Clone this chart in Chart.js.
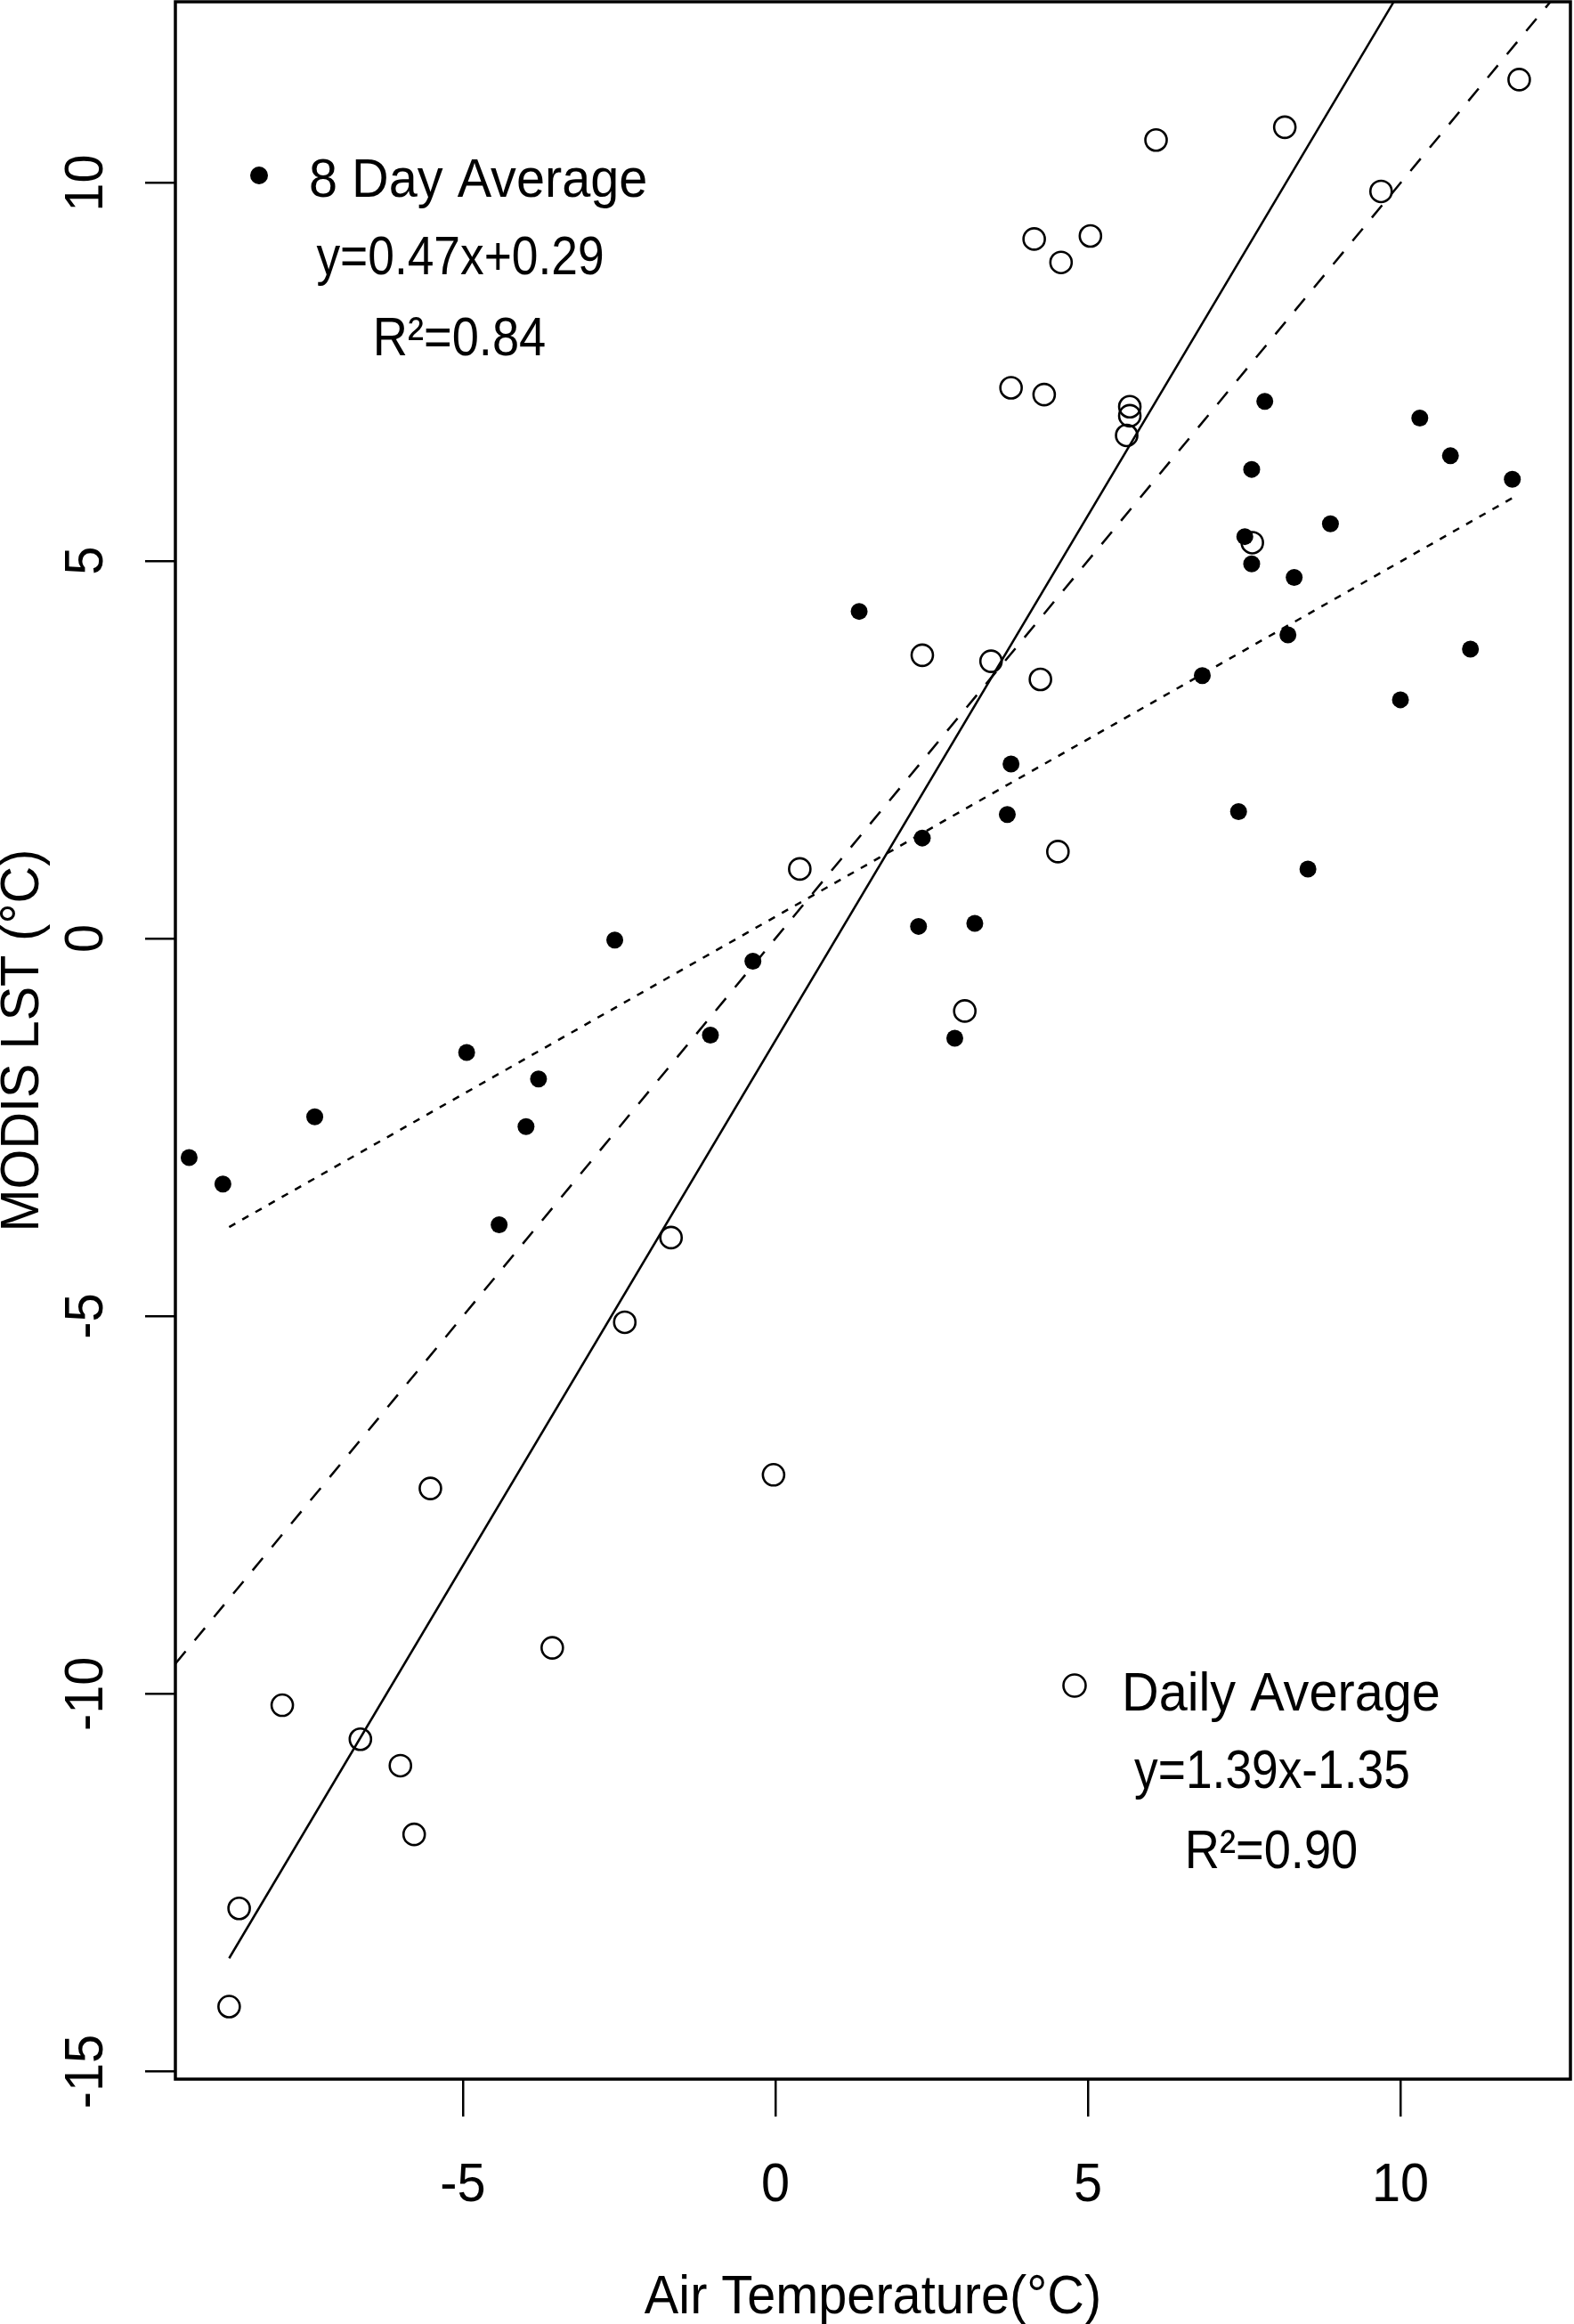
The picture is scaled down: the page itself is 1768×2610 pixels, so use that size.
<!DOCTYPE html>
<html>
<head>
<meta charset="utf-8">
<script src="https://cdn.jsdelivr.net/npm/chart.js@4.4.1/dist/chart.umd.min.js"></script>
<style>
  html, body { margin: 0; padding: 0; background: #fff; }
  #chart { display: block; }
</style>
</head>
<body>
<canvas id="chart" width="1768" height="2610"></canvas>
<script>
// 8 day average (filled dots)
const eightDayX = [-9.38, -8.84, -7.37, -4.94, -4.42, -3.99, -3.79, -2.57, -1.04, -0.36,
                   1.34, 2.29, 2.35, 2.87, 3.19, 3.71, 3.77, 6.83, 7.41, 7.51,
                   7.62, 7.62, 7.83, 8.20, 8.30, 8.52, 8.88, 10.00, 10.31, 10.80,
                   11.12, 11.79];
const eightDayY = [-2.90, -3.25, -2.36, -1.51, -3.79, -2.49, -1.86, -0.02, -1.28, -0.30,
                   4.33, 0.16, 1.33, -1.32, 0.20, 1.64, 2.31, 3.48, 1.68, 5.32,
                   6.21, 4.96, 7.11, 4.02, 4.78, 0.92, 5.49, 3.16, 6.89, 6.39,
                   3.83, 6.08];

// daily average (open circles)
const dailyX = [-8.74, -8.58, -7.89, -6.64, -6.00, -5.78, -5.52, -3.57, -2.41, -1.67,
                -0.03, 0.39, 2.35, 3.03, 3.45, 4.24, 4.52, 3.77, 4.30, 4.14,
                4.57, 5.04, 5.67, 5.67, 5.62, 6.09, 7.63, 8.15, 9.69, 11.90];
const dailyY = [-14.14, -12.84, -10.15, -10.60, -10.95, -11.86, -7.28, -9.39, -5.08, -3.96,
                -7.10, 0.92, 3.75, -0.96, 3.67, 3.43, 1.15, 7.29, 7.20, 9.26,
                8.95, 9.30, 7.04, 6.92, 6.66, 10.57, 5.24, 10.74, 9.89, 11.37];

// fitted lines, end points
const eightDayFitX = [-8.74, 11.79];
const eightDayFitY = [-3.82, 5.83];
const dailyFitX = [-8.74, 11.90];
const dailyFitY = [-13.50, 15.19];
const oneToOneX = [-9.6, 12.72];
const oneToOneY = [-9.6, 12.72];

const xTicks = [-5, 0, 5, 10];
const yTicks = [-15, -10, -5, 0, 5, 10];
const xTitle = "Air Temperature(°C)";
const yTitle = "MODIS LST (°C)";
const legendTop = ["8 Day Average", "y=0.47x+0.29", "R²=0.84"];
const legendBottom = ["Daily Average", "y=1.39x-1.35", "R²=0.90"];

function pts(xs, ys) {
  return xs.map(function (x, i) { return { x: x, y: ys[i] } });
}

// text a bit narrower than plain Arial, like the R windows device
function txt(ctx, s, x, y, align, rot, sx) {
  ctx.save();
  ctx.translate(x, y);
  if (rot) ctx.rotate(rot);
  ctx.scale(sx || 0.93, 1);
  ctx.textAlign = align;
  ctx.fillText(s, 0, 0);
  ctx.restore();
}

const rPlot = {
  id: 'rPlot',
  beforeDraw(chart) {
    const ctx = chart.ctx;
    ctx.save();
    ctx.fillStyle = '#fff';
    ctx.fillRect(0, 0, chart.width, chart.height);
    ctx.restore();
  },
  afterDraw(chart) {
    const ctx = chart.ctx, a = chart.chartArea;
    const xs = chart.scales.x, ys = chart.scales.y;
    ctx.save();
    ctx.strokeStyle = '#000';
    ctx.lineWidth = 3.5;
    ctx.strokeRect(a.left, a.top, a.right - a.left, a.bottom - a.top);

    ctx.fillStyle = '#000';
    ctx.font = '62px "Liberation Sans", Arial, sans-serif';
    ctx.textBaseline = 'alphabetic';
    xTicks.forEach(function (v) {
      txt(ctx, String(v), xs.getPixelForValue(v), a.bottom + 137, 'center');
    });
    yTicks.forEach(function (v) {
      txt(ctx, String(v), a.left - 82, ys.getPixelForValue(v), 'center', -Math.PI / 2);
    });
    txt(ctx, xTitle, (a.left + a.right) / 2, a.bottom + 263, 'center');
    txt(ctx, yTitle, a.left - 154, (a.top + a.bottom) / 2, 'center', -Math.PI / 2);

    // legend top left
    ctx.beginPath();
    ctx.arc(291, 197, 10, 0, Math.PI * 2);
    ctx.fill();
    txt(ctx, legendTop[0], 347, 221, 'left');
    txt(ctx, legendTop[1], 517, 308, 'center', 0, 0.86);
    txt(ctx, legendTop[2], 516, 399, 'center', 0, 0.875);

    // legend bottom right
    ctx.lineWidth = 2.6;
    ctx.beginPath();
    ctx.arc(1207, 1893, 12.5, 0, Math.PI * 2);
    ctx.stroke();
    txt(ctx, legendBottom[0], 1260, 1921, 'left');
    txt(ctx, legendBottom[1], 1429, 2008, 'center', 0, 0.86);
    txt(ctx, legendBottom[2], 1428, 2098, 'center', 0, 0.875);
    ctx.restore();
  }
};

new Chart(document.getElementById('chart'), {
  type: 'scatter',
  data: {
    datasets: [
      {
        label: '1:1',
        data: pts(oneToOneX, oneToOneY),
        showLine: true,
        borderColor: '#000',
        borderWidth: 2.5,
        borderDash: [18, 16],
        pointRadius: 0,
        fill: false
      },
      {
        label: 'daily fit',
        data: pts(dailyFitX, dailyFitY),
        showLine: true,
        borderColor: '#000',
        borderWidth: 2.5,
        pointRadius: 0,
        fill: false
      },
      {
        label: '8 day fit',
        data: pts(eightDayFitX, eightDayFitY),
        showLine: true,
        borderColor: '#000',
        borderWidth: 2.5,
        borderDash: [8, 9],
        pointRadius: 0,
        fill: false
      },
      {
        label: 'Daily Average',
        data: pts(dailyX, dailyY),
        showLine: false,
        pointRadius: 12,
        pointBorderWidth: 2.6,
        pointBorderColor: '#000',
        pointBackgroundColor: 'rgba(0,0,0,0)'
      },
      {
        label: '8 Day Average',
        data: pts(eightDayX, eightDayY),
        showLine: false,
        pointRadius: 9.5,
        pointBorderWidth: 0,
        pointBackgroundColor: '#000'
      }
    ]
  },
  options: {
    responsive: false,
    animation: false,
    devicePixelRatio: 1,
    layout: { autoPadding: false, padding: { top: 2, right: 4, left: 0, bottom: 0 } },
    plugins: { legend: { display: false }, tooltip: { enabled: false } },
    scales: {
      x: {
        type: 'linear',
        min: -9.6,
        max: 12.72,
        afterBuildTicks: function (s) { s.ticks = xTicks.map(function (v) { return { value: v } }) },
        afterFit: function (s) { s.height = 275 },
        ticks: { display: false },
        grid: { drawOnChartArea: false, drawTicks: true, tickLength: 42, color: '#000', lineWidth: 2.5 },
        border: { display: false }
      },
      y: {
        type: 'linear',
        min: -15.10,
        max: 12.40,
        afterBuildTicks: function (s) { s.ticks = yTicks.map(function (v) { return { value: v } }) },
        afterFit: function (s) { s.width = 197 },
        ticks: { display: false },
        grid: { drawOnChartArea: false, drawTicks: true, tickLength: 34, color: '#000', lineWidth: 2.5 },
        border: { display: false }
      }
    }
  },
  plugins: [rPlot]
});
</script>
</body>
</html>
